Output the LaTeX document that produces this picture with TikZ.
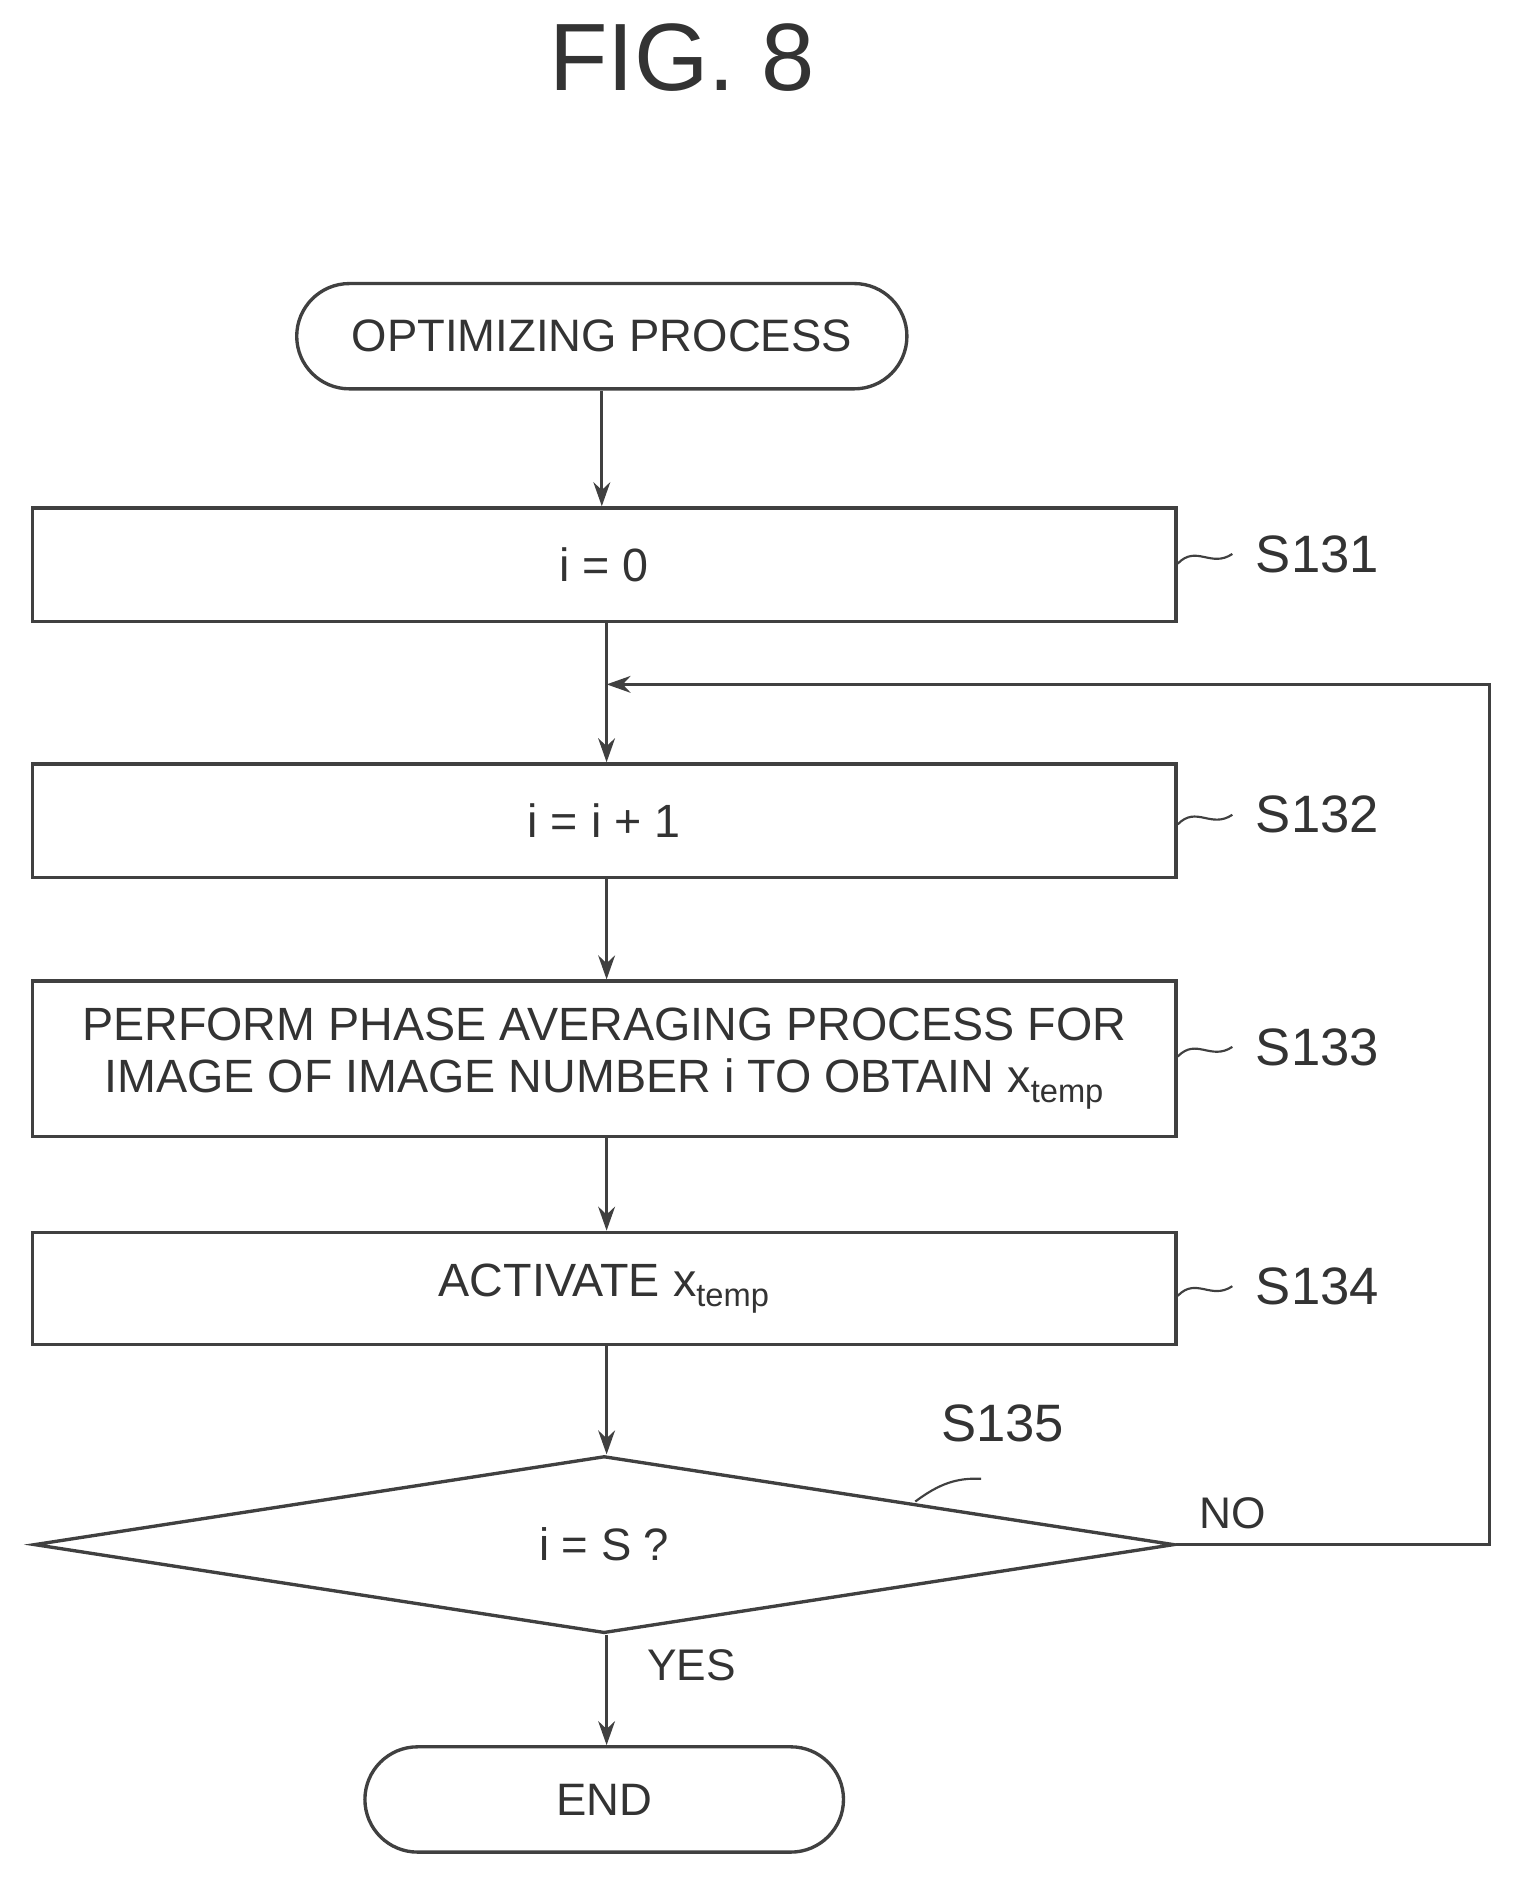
\documentclass[tikz,border=0pt]{standalone}
\usepackage{fontspec}
\setmainfont{Liberation Sans}
\usetikzlibrary{shapes.geometric,arrows.meta}
\begin{document}
\begin{tikzpicture}[x=1pt,y=-1pt,
  line width=2.8pt, draw=black!75,
  box/.style={draw=black!75,rectangle,minimum width=956pt,inner sep=0pt,font=\fontsize{39}{43}\selectfont,text=black!80,align=center},
  term/.style={draw=black!75,rounded corners=44pt,inner sep=0pt,font=\fontsize{38}{42}\selectfont,text=black!80},
  lab/.style={font=\fontsize{44}{50}\selectfont,text=black!80},
  arr/.style={-{Stealth[length=20pt,width=14pt]}}]
\useasboundingbox (0,0) rectangle (1270,1573);
\node[font=\fontsize{80}{90}\selectfont,text=black!80] (title) at (570,48) {FIG. 8};
\node[term,minimum width=510pt,minimum height=88pt] (start) at (503,281) {OPTIMIZING PROCESS};
\node[box,minimum height=95pt] (s131) at (505,472) {i = 0};
\node[box,minimum height=95pt] (s132) at (505,686) {i = i + 1};
\node[box,minimum height=130pt] (s133) at (505,885) {PERFORM PHASE AVERAGING PROCESS FOR\\IMAGE OF IMAGE NUMBER i TO OBTAIN x\textsubscript{temp}};
\node[box,minimum height=94pt] (s134) at (505,1077) {ACTIVATE x\textsubscript{temp}};
\node[draw=black!75,diamond,aspect=6.44,minimum width=953pt,minimum height=148pt,inner sep=0pt,font=\fontsize{38}{42}\selectfont,text=black!80] (d) at (505,1291) {i = S ?};
\node[term,minimum width=400pt,minimum height=88pt] (end) at (505,1504) {END};
\coordinate (j) at (507,572);
\coordinate (r1) at (1245,1291);
\coordinate (r2) at (1245,572);
\draw[arr] (start) -- (s131.north -| start);
\draw (s131.south -| j) -- (j);
\draw[arr] (j) -- (s132.north -| j);
\draw[arr] (s132.south -| j) -- (s133.north -| j);
\draw[arr] (s133.south -| j) -- (s134.north -| j);
\draw[arr] (s134.south -| j) -- (d.north -| j);
\draw[arr] (d.south -| j) -- (end.north -| j);
\draw[arr] (d.east) -- (r1) -- (r2) -- (j);
\foreach \n/\y/\t in {s131/463/S131,s132/681/S132,s133/875/S133,s134/1075/S134}{
  \node[lab,anchor=west] (L\n) at (1045,\y) {\t};
  \draw[line width=1.8pt] (\n.east |- 0,\y+8) .. controls (1000,\y-8) and (1012,\y+12) .. (1030,\y);
}
\node[lab] (l135) at (838,1190) {S135};
\draw[line width=1.8pt] (765,1255) .. controls (785,1240) and (800,1235) .. (820,1236);
\node[lab,font=\fontsize{37}{42}\selectfont] (no) at (1030,1265) {NO};
\node[lab,font=\fontsize{37}{42}\selectfont] (yes) at (578,1392) {YES};
\end{tikzpicture}
\end{document}
